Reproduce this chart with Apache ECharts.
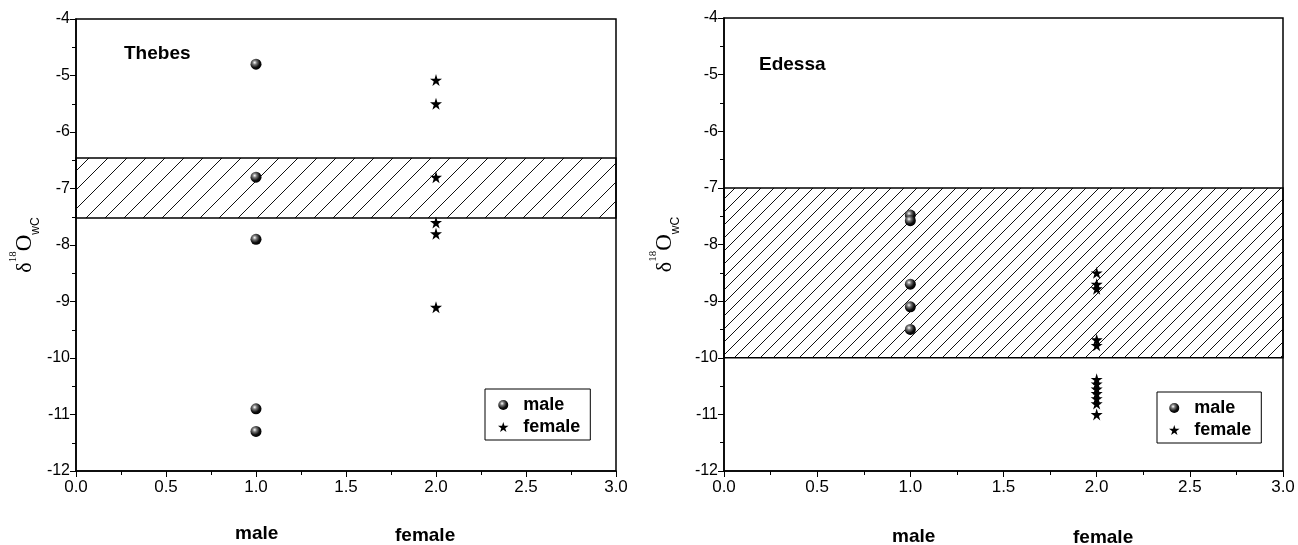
<!DOCTYPE html>
<html lang="en">
<head>
    <meta charset="UTF-8">
    <title>δ18O Thebes / Edessa</title>
    <style>
        html, body { margin: 0; padding: 0; background: #fff; }
    </style>
</head>
<body>
    <div id="main" style="width: 1298px;height:545px;"></div>

    <script src="https://cdn.jsdelivr.net/npm/echarts@6/dist/echarts.min.js"></script>
    <script type="text/javascript">
        // 数据
        var thebesMale = [-4.8, -6.8, -7.9, -10.9, -11.3];
        var thebesFemale = [-5.08, -5.5, -6.8, -7.6, -7.8, -9.1];
        var thebesBand = [-6.46, -7.52];

        var edessaMale = [-7.48, -7.58, -8.7, -9.1, -9.5];
        var edessaFemale = [-8.5, -8.7, -8.78, -9.68, -9.78, -10.38, -10.46, -10.55, -10.63, -10.72, -10.81, -11.0];
        var edessaBand = [-7, -10];

        var maleX = 1, femaleX = 2;

        var font = '"Liberation Sans", Arial, sans-serif';
        var narrow = '"Liberation Sans Narrow", "Arial Narrow", "Liberation Sans", sans-serif';
        var serif = '"Liberation Serif", "Times New Roman", serif';
        var star = 'path://M50,0 L61,35 L98,35 L68,57 L79,91 L50,70 L21,91 L32,57 L2,35 L39,35 Z';

        // 斜线填充
        function hatch(step) {
            var c = document.createElement('canvas');
            c.width = c.height = step;
            var g = c.getContext('2d');
            g.strokeStyle = '#111';
            g.lineWidth = 1;
            g.beginPath();
            g.moveTo(0, step); g.lineTo(step, 0);
            g.moveTo(-2, 2); g.lineTo(2, -2);
            g.moveTo(step - 2, step + 2); g.lineTo(step + 2, step - 2);
            g.stroke();
            return c;
        }

        var sphere = {
            type: 'radial', x: 0.38, y: 0.35, r: 0.65,
            colorStops: [
                {offset: 0, color: '#ffffff'},
                {offset: 0.3, color: '#777'},
                {offset: 0.7, color: '#111'},
                {offset: 1, color: '#000'}
            ]
        };

        function xAxis(gi) {
            return {
                type: 'value', gridIndex: gi, min: 0, max: 3, interval: 0.5,
                axisLine: {show: true, onZero: false, lineStyle: {color: '#000', width: 1.5}},
                axisTick: {show: true, inside: false, length: 6, lineStyle: {color: '#000'}},
                minorTick: {show: true, splitNumber: 2, length: 4, lineStyle: {color: '#000'}},
                splitLine: {show: false},
                axisLabel: {color: '#000', fontSize: 17, fontFamily: narrow, margin: 8,
                    formatter: function (v) { return v.toFixed(1); }}
            };
        }

        function yAxis(gi, gap) {
            return {
                type: 'value', gridIndex: gi, min: -12, max: -4, interval: 1,
                axisLine: {show: true, onZero: false, lineStyle: {color: '#000', width: 1.5}},
                axisTick: {show: true, inside: false, length: 6, lineStyle: {color: '#000'}},
                minorTick: {show: true, splitNumber: 2, length: 4, lineStyle: {color: '#000'}},
                splitLine: {show: false},
                axisLabel: {color: '#000', fontSize: 16, fontFamily: font, margin: 6},
                name: '{d|δ}{s|18}{o|O}{w|wC}',
                nameLocation: 'middle', nameRotate: 90, nameGap: gap,
                nameTextStyle: {
                    color: '#000',
                    rich: {
                        d: {fontSize: 22, fontFamily: serif, verticalAlign: 'bottom', lineHeight: 28},
                        s: {fontSize: 11, fontFamily: serif, verticalAlign: 'top', lineHeight: 28},
                        o: {fontSize: 23, fontFamily: serif, verticalAlign: 'bottom', lineHeight: 28},
                        w: {fontSize: 12, fontFamily: font, verticalAlign: 'bottom', lineHeight: 22, padding: [0, 0, -6, 0]}
                    }
                }
            };
        }

        function pts(x, arr) { return arr.map(function (v) { return [x, v]; }); }

        function maleSeries(gi, data, band, step) {
            return {
                name: 'male', type: 'scatter', xAxisIndex: gi, yAxisIndex: gi,
                symbol: 'circle', symbolSize: 11,
                itemStyle: {color: sphere, opacity: 1},
                data: pts(maleX, data), z: 3,
                markArea: {
                    silent: true,
                    itemStyle: {color: {image: hatch(step), repeat: 'repeat'}, borderColor: '#000', borderWidth: 1.5, opacity: 1},
                    data: [[{yAxis: band[0]}, {yAxis: band[1]}]]
                }
            };
        }

        function femaleSeries(gi, data) {
            return {
                name: 'female', type: 'scatter', xAxisIndex: gi, yAxisIndex: gi,
                symbol: star, symbolSize: 12,
                itemStyle: {color: '#000', opacity: 1},
                data: pts(femaleX, data), z: 3
            };
        }

        function legend(left, top, padLeft) {
            return {
                left: left, top: top, orient: 'vertical',
                borderColor: '#000', borderWidth: 1, borderRadius: 0,
                padding: [7, 10, 4, padLeft], itemGap: 4,
                itemWidth: 30, itemHeight: 10,
                textStyle: {color: '#000', fontSize: 18, fontWeight: 'bold', fontFamily: font},
                data: [{name: 'male', icon: 'circle', itemStyle: {color: sphere}}, {name: 'female', icon: star}],
                selectedMode: false
            };
        }

        function label(x, y, text, size) {
            return {type: 'text', left: x, top: y,
                style: {text: text, fill: '#000', font: 'bold ' + size + 'px ' + font}};
        }

        var myChart = echarts.init(document.getElementById('main'));
        var option = {
            animation: false,
            backgroundColor: '#fff',
            grid: [
                {left: 76, right: 682, top: 19, bottom: 74, show: true, borderColor: '#000', borderWidth: 1.5},
                {left: 724, right: 15, top: 18, bottom: 74, show: true, borderColor: '#000', borderWidth: 1.5}
            ],
            xAxis: [xAxis(0), xAxis(1)],
            yAxis: [yAxis(0, 40), yAxis(1, 48)],
            legend: [legend(485, 389, 13), legend(1157, 392, 12)],
            graphic: [
                label(124, 44, 'Thebes', 19),
                label(759, 55, 'Edessa', 19),
                label(235, 524, 'male', 19),
                label(395, 526, 'female', 19),
                label(892, 527, 'male', 19),
                label(1073, 528, 'female', 19)
            ],
            series: [
                maleSeries(0, thebesMale, thebesBand, 19),
                femaleSeries(0, thebesFemale),
                maleSeries(1, edessaMale, edessaBand, 13),
                femaleSeries(1, edessaFemale)
            ]
        };
        myChart.setOption(option);
    </script>
</body>
</html>
